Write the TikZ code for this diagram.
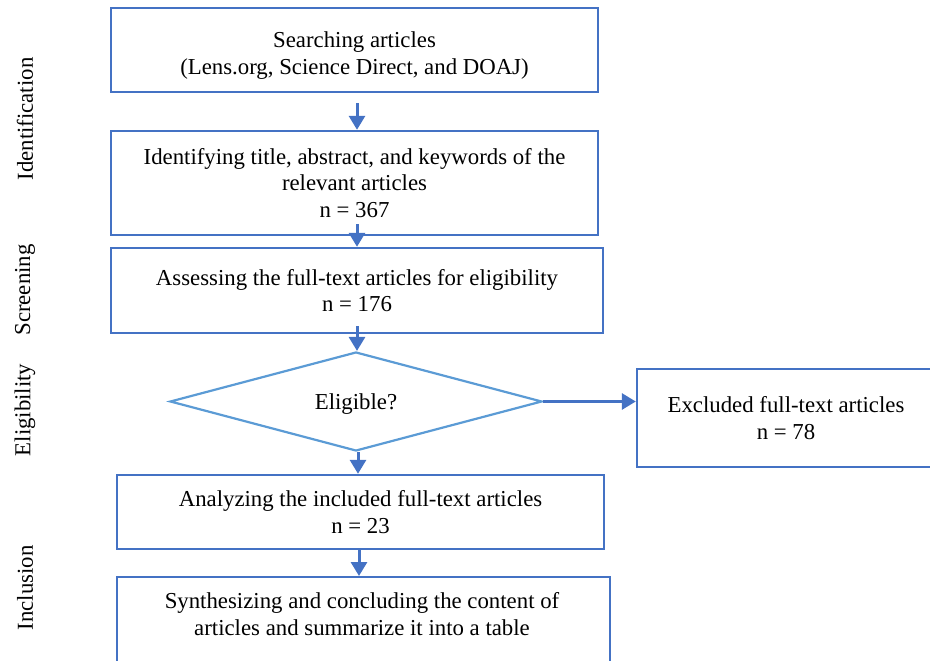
\documentclass[tikz,border=0pt]{standalone}
\usepackage{fontspec}
\setmainfont{Liberation Serif}
\usetikzlibrary{arrows.meta,shapes.geometric}
\definecolor{boxblue}{HTML}{4472C4}
\definecolor{diablue}{HTML}{5B9BD5}
\begin{document}
\begin{tikzpicture}[x=1pt,y=-1pt,
  body/.style={font=\fontsize{22.8}{26.5}\selectfont},
  box/.style={body, draw=boxblue, line width=2.4pt, rectangle, inner sep=0pt, align=center},
  txt/.style={body, align=center, inner sep=0pt},
  decision/.style={body, draw=diablue, line width=2.2pt, diamond, inner sep=0pt, text depth=0pt},
  flow/.style={draw=boxblue, line width=3pt, -{Triangle[width=16pt,length=14pt]}},
  phase/.style={body, rotate=90, inner sep=0pt}]
\useasboundingbox (0,0) rectangle (930,661);
\clip (0,0) rectangle (930,661);

% process boxes
\node[box, minimum width=487pt, minimum height=84pt] (b1) at (354.5,50) {};
\node[txt] (b1t) at (354.5,55.5)
  {Searching articles\\(Lens.org, Science Direct, and DOAJ)};
\node[box, minimum width=487pt, minimum height=104pt] (b2) at (354.5,183)
  {Identifying title, abstract, and keywords of the\\relevant articles\\n = 367};
\node[box, minimum width=492pt, minimum height=85pt] (b3) at (357,290.5)
  {Assessing the full-text articles for eligibility\\n = 176};
\node[decision, minimum width=372pt, minimum height=99pt] (dia) at (356,401.5) {Eligible?};
\node[box, minimum width=298pt, minimum height=98pt] (excl) at (786,418)
  {Excluded full-text articles\\n = 78};
\node[box, minimum width=487pt, minimum height=74pt] (b4) at (360.5,512)
  {Analyzing the included full-text articles\\n = 23};
\node[box, minimum width=493pt, minimum height=104pt, anchor=north] (b5) at (363.5,576) {};
\node[txt] (b5t) at (362,614)
  {Synthesizing and concluding the content of\\articles and summarize it into a table};

% connectors
\draw[flow] ([xshift=2.5pt,yshift=-10pt]b1.south) -- ([xshift=2.5pt]b2.north);
\draw[flow] ([xshift=2.5pt,yshift=12pt]b2.south) -- (b3.north);
\draw[flow] ([yshift=8pt]b3.south) -- (b3.south |- dia.north);
\draw[flow] ([xshift=2pt]dia.south) -- ([xshift=2pt]dia.south |- b4.north);
\draw[flow] ([xshift=-1.5pt]b4.south) -- ([xshift=-1.5pt]b4.south |- b5.north);
\draw[flow] (dia.east) -- (dia.east -| excl.west);

% phase labels
\node[phase] (p1) at (25,119) {Identification};
\node[phase] (p2) at (25,290) {Screening};
\node[phase] (p3) at (25,410) {Eligibility};
\node[phase] (p4) at (25,588) {Inclusion};
\end{tikzpicture}
\end{document}
